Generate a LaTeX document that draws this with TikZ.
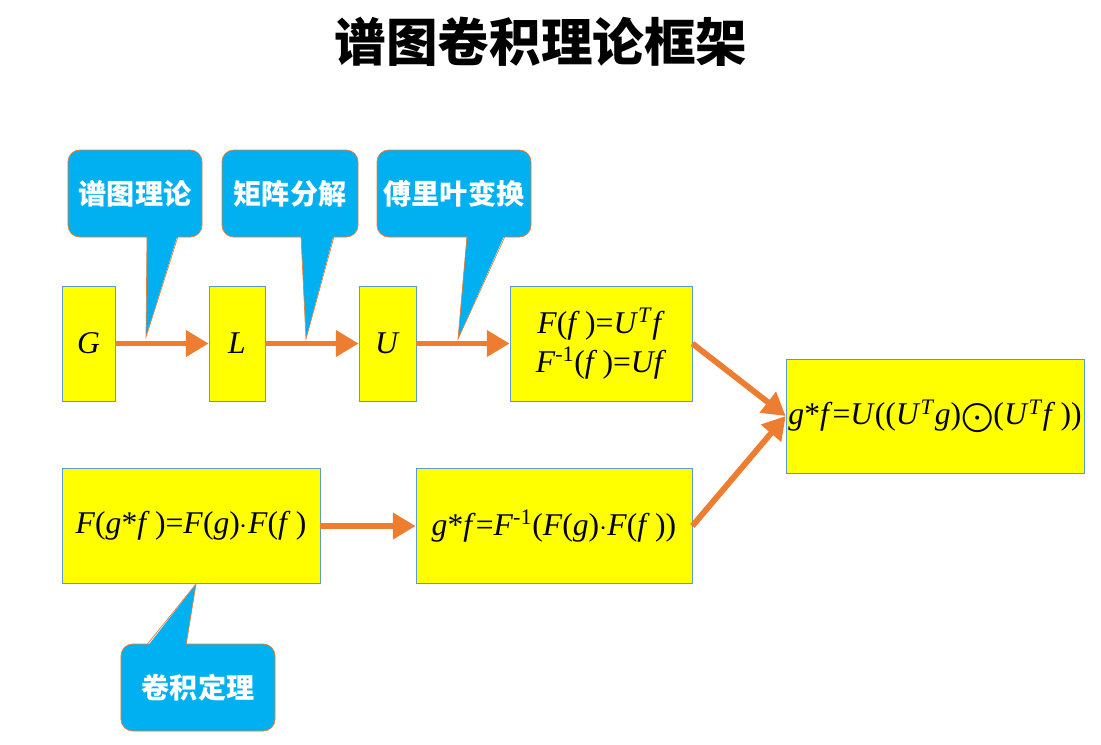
\documentclass[tikz,border=0pt]{standalone}
\usepackage{fontspec}
\setmainfont{Liberation Serif}
\newfontfamily\cjk{Noto Sans CJK SC}
\usepackage{amsmath}
\usepackage{xcolor}
\usepackage{tikz}
\usetikzlibrary{arrows.meta, positioning, calc}

\definecolor{boxyellow}{HTML}{FFFF00}
\definecolor{boxedge}{HTML}{5B9BD5}
\definecolor{tagblue}{HTML}{00B0F0}
\definecolor{flow}{HTML}{ED7D31}

\tikzset{
  stage/.style={draw=boxedge, fill=boxyellow, line width=0.6pt, minimum height=3.45cm, inner sep=0pt, align=center, font=\fontsize{27}{33}\selectfont},
  tag/.style={draw=flow, fill=tagblue, rounded corners=10pt, line width=0.6pt, minimum height=2.61cm, inner sep=0pt, text=white, font=\cjk\bfseries\fontsize{24}{28}\selectfont},
  pointer/.style={fill=tagblue, draw=none},
  pointeredge/.style={draw=flow, line width=0.6pt},
  flowarrow/.style={draw=flow, line width=5pt, -{Triangle[length=0.68cm,width=0.76cm]}}
}

\begin{document}
\begin{tikzpicture}[x=0.03cm, y=-0.03cm]
\useasboundingbox (0,0) rectangle (1101,744);

% Title
\node[font=\cjk\bfseries\fontsize{44}{50}\selectfont] (title) at (541,42) {谱图卷积理论框架};

% Upper chain
\node[stage, minimum width=1.59cm] (G) at (88.5,343.5) {\textit{G}};
\node[stage, minimum width=1.68cm] (L) at (237,343.5) {\textit{L}};
\node[stage, minimum width=1.71cm] (U) at (387.5,343.5) {\textit{U}};
\node[stage, minimum width=5.46cm] (fourier) at (601,343.5) {\textit{F}(\textit{f}\,)=\textit{U}\textsuperscript{\textit{T}}\textit{f}\\\textit{F}\textsuperscript{-1}(\textit{f}\,)=\textit{Uf}};

% Lower chain
\node[stage, minimum width=7.74cm] (conv) at (191,526) {\textit{F}(\textit{g}*\textit{f}\,)=\textit{F}(\textit{g})$\cdot$\textit{F}(\textit{f}\,)};
\node[stage, minimum width=8.28cm] (inv) at (554,526) {\textit{g}*\textit{f}=\textit{F}\textsuperscript{-1}(\textit{F}(\textit{g})$\cdot$\textit{F}(\textit{f}\,))};

% Result
\node[stage, minimum width=8.94cm, minimum height=3.42cm] (result) at (935,416) {\textit{g}*\textit{f}=\textit{U}((\textit{U}\textsuperscript{\textit{T}}\textit{g})$\bigodot$(\textit{U}\textsuperscript{\textit{T}}\textit{f}\,))};

% Callouts
\node[tag, minimum width=4.02cm] (spec) at (135,193.5) {谱图理论};
\node[tag, minimum width=4.08cm] (decomp) at (290,193.5) {矩阵分解};
\node[tag, minimum width=4.62cm] (trans) at (454,193.5) {傅里叶变换};
\node[tag, minimum width=4.62cm] (theorem) at (198,687.5) {卷积定理};

\coordinate (specTip) at (146,337);
\coordinate (decompTip) at (306,339);
\coordinate (transTip) at (458,339);
\coordinate (theoremTip) at (196,584);

\fill[pointer] (147,234) -- (specTip) -- (178,234) -- cycle;
\draw[pointeredge] (147,236.5) -- (specTip) -- (178,236.5);
\fill[pointer] (301,234) -- (decompTip) -- (334,234) -- cycle;
\draw[pointeredge] (301,236.5) -- (decompTip) -- (334,236.5);
\fill[pointer] (467,234) -- (transTip) -- (505,234) -- cycle;
\draw[pointeredge] (467,236.5) -- (transTip) -- (505,236.5);
\fill[pointer] (147,647) -- (theoremTip) -- (186,647) -- cycle;
\draw[pointeredge] (147,644.5) -- (theoremTip) -- (186,644.5);

% Arrows
\draw[flowarrow] (G) -- (L);
\draw[flowarrow] (L) -- (U);
\draw[flowarrow] (U) -- (fourier);
\draw[flowarrow] (conv) -- (inv);
\draw[flowarrow] (fourier.east) -- (result.west);
\draw[flowarrow] (inv.east) -- (result.west);
\end{tikzpicture}
\end{document}
